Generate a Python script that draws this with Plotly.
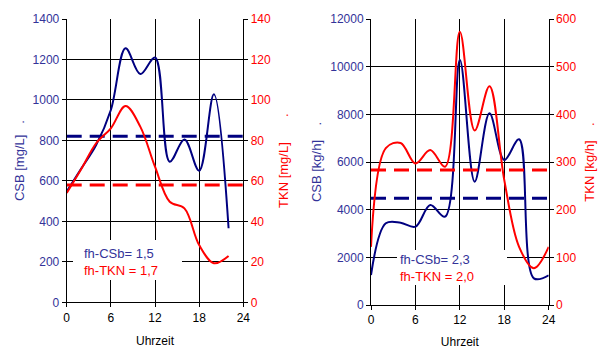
import plotly.graph_objects as go

hours = [0, 2, 4, 6, 8, 10, 12, 14, 16, 18, 20, 22]
csb_conc = [547, 662, 777, 950, 1255, 1128, 1210, 695, 805, 650, 1028, 366]
tkn_conc = [54, 66, 78.6, 86, 97, 86.8, 67, 49.7, 46.4, 28.3, 19.3, 22.9]
csb_conc_mean = 820
tkn_conc_mean = 58

hours2 = [0, 2, 4, 6, 8, 10, 12, 14, 16, 18, 20, 22, 24]
csb_load = [1259, 3427, 3454, 3287, 4196, 3706, 10280, 5175, 8042, 6084, 6951, 1119, 1245]
tkn_load = [122, 329, 340, 297, 325, 290, 573, 366, 459, 262, 122, 77, 122]
csb_load_mean = 4475
tkn_load_mean = 283

x_ticks = [0, 6, 12, 18, 24]

BLUE = "#000080"
BLUE_TXT = "#333399"
RED = "#FF0000"
FONT = "Liberation Sans, Arial, sans-serif"
nb = "\u00a0"

fig = go.Figure()

def add_chart(xs, csb, tkn, csb_mean, tkn_mean, xa, ya, ya2):
    fig.add_trace(go.Scatter(x=xs, y=csb, mode="lines", line=dict(color=BLUE, width=2, shape="spline", smoothing=1),
                             xaxis=xa, yaxis=ya, showlegend=False))
    fig.add_trace(go.Scatter(x=[0, 24], y=[csb_mean, csb_mean], mode="lines",
                             line=dict(color=BLUE, width=3, dash="15px,8px"), xaxis=xa, yaxis=ya, showlegend=False))
    fig.add_trace(go.Scatter(x=xs, y=tkn, mode="lines", line=dict(color=RED, width=2, shape="spline", smoothing=1),
                             xaxis=xa, yaxis=ya2, showlegend=False))
    fig.add_trace(go.Scatter(x=[0, 24], y=[tkn_mean, tkn_mean], mode="lines",
                             line=dict(color=RED, width=3, dash="15px,8px"), xaxis=xa, yaxis=ya2, showlegend=False))

add_chart(hours, csb_conc, tkn_conc, csb_conc_mean, tkn_conc_mean, "x", "y", "y2")
add_chart(hours2, csb_load, tkn_load, csb_load_mean, tkn_load_mean, "x2", "y3", "y4")

W, H = 609, 349
def xd(a, b):
    return [a / W, b / W]
def yd(top, bottom):
    return [(H - bottom) / H, (H - top) / H]

tickfont = dict(family=FONT, size=12, color="black")
xcommon = dict(range=[0, 24], tickvals=x_ticks, showgrid=True, gridcolor="black", gridwidth=1,
               showline=True, linecolor="black", linewidth=1, ticks="outside", ticklen=4, tickcolor="black",
               zeroline=False, tickfont=tickfont, automargin=False,
               title=dict(text="Uhrzeit", font=dict(family=FONT, size=12, color="black"), standoff=12))

def ycommon(rng, dtick, color, title, side, standoff, grid):
    return dict(range=rng, dtick=dtick, tickformat="d", showgrid=grid, gridcolor="black", gridwidth=1,
                showline=True, linecolor="black", linewidth=1, ticks="outside", ticklen=4, tickcolor="black",
                zeroline=False, tickfont=dict(family=FONT, size=12, color=color), side=side, automargin=False,
                title=dict(text=title, font=dict(family=FONT, size=13, color=color), standoff=standoff))

fig.update_layout(
    width=W, height=H, margin=dict(l=0, r=0, t=0, b=0),
    paper_bgcolor="white", plot_bgcolor="white",
    xaxis=dict(domain=xd(66.7, 243.3), anchor="y", **xcommon),
    yaxis=dict(domain=yd(19, 302.3), anchor="x",
               **ycommon([0, 1400], 200, BLUE_TXT, "CSB [mg/L]" + nb * 3 + ".", "left", 5, True)),
    yaxis2=dict(overlaying="y", anchor="x",
                **ycommon([0, 140], 20, RED, "TKN [mg/L]" + nb * 7 + ".", "right", 8, False)),
    xaxis2=dict(domain=xd(371, 548.7), anchor="y3", **xcommon),
    yaxis3=dict(domain=yd(19, 305), anchor="x2",
                **ycommon([0, 12000], 2000, BLUE_TXT, "CSB [kg/h]" + nb * 4 + ".", "left", 5, True)),
    yaxis4=dict(overlaying="y3", anchor="x2",
                **ycommon([0, 600], 100, RED, "TKN [kg/h]" + nb * 4 + ".", "right", 9, False)),
)

def white_box(x0, x1, y0, y1):
    fig.add_annotation(xref="paper", yref="paper", x=x0 / W, y=(H - y0) / H, xanchor="left", yanchor="top",
                       text=" ", showarrow=False, bgcolor="white", width=x1 - x0, height=y1 - y0, borderpad=0,
                       borderwidth=0, font=dict(family=FONT, size=12))

def label(x, ymid, l1, l2):
    fig.add_annotation(xref="paper", yref="paper", x=x / W, y=(H - ymid) / H, xanchor="left", yanchor="middle",
                       text=f"<span style='color:{BLUE_TXT}'>{l1}</span><br><span style='color:{RED}'>{l2}</span>",
                       showarrow=False, align="left", borderpad=0, font=dict(family=FONT, size=13))

white_box(73, 182, 240, 280)
label(83, 261.7, "fh-CSb= 1,5", "fh-TKN = 1,7")
white_box(397, 507, 250, 285)
label(399, 267.5, "fh-CSb= 2,3", "fh-TKN = 2,0")

fig.write_html("out.html")
